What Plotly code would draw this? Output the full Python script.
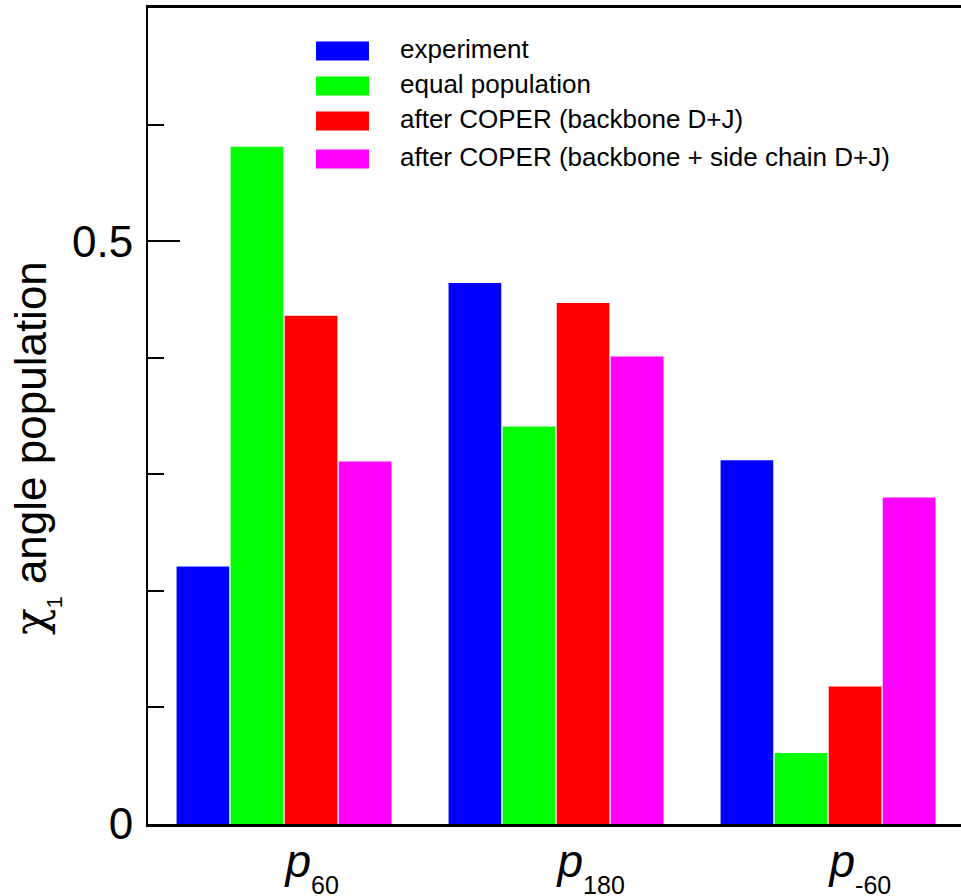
import plotly.graph_objects as go

# ---- data ----
categories = ["p60", "p180", "p-60"]
category_subscripts = ["60", "180", "-60"]
series_names = [
    "experiment",
    "equal population",
    "after COPER (backbone D+J)",
    "after COPER (backbone + side chain D+J)",
]
experiment = [0.221, 0.464, 0.312]
equal_population = [0.581, 0.341, 0.061]
coper_backbone = [0.436, 0.447, 0.118]
coper_backbone_side = [0.311, 0.401, 0.280]
series_values = [experiment, equal_population, coper_backbone, coper_backbone_side]
series_colors = ["#0000ff", "#00ff00", "#ff0000", "#ff00ff"]

y_tick_vals = [0, 0.5]
y_tick_text = ["0", "0.5"]

FONT = "Liberation Sans, Arial, Helvetica, sans-serif"

category_labels = [
    "<i>p</i><sub><sub><span style='font-size:25px'>%s</span></sub></sub>" % s
    for s in category_subscripts
]

# ---- layout geometry (pixels) ----
W, H = 961, 896
L, T, B = 148, 8, 72
PW = W - L
PH = H - T - B
UNIT = 272.0  # px per category


def px_x(p):
    return (p - L) / PW


def px_y(p):
    return (H - B - p) / PH


fig = go.Figure()
for name, vals, col in zip(series_names, series_values, series_colors):
    fig.add_trace(go.Bar(
        x=list(range(len(categories))),
        y=vals,
        name=name,
        marker=dict(color=col, line=dict(width=0)),
        showlegend=False,
    ))

# custom legend (large colour swatches like the reference)
legend_row_centers = [51, 86, 121, 159]
for name, col, yc in zip(series_names, series_colors, legend_row_centers):
    fig.add_shape(
        type="rect", xref="paper", yref="paper",
        x0=px_x(316), x1=px_x(369), y0=px_y(yc + 9.5), y1=px_y(yc - 9.5),
        fillcolor=col, line=dict(width=0),
    )
    fig.add_annotation(
        xref="paper", yref="paper", x=px_x(398), y=px_y(yc - 2),
        text=name, showarrow=False, xanchor="left", yanchor="middle",
        font=dict(family=FONT, size=26, color="black"),
    )

# y-axis title
fig.add_annotation(
    xref="paper", yref="paper", x=px_x(36), y=px_y(448),
    text="<span style='font-family:DejaVu Serif'>χ</span><sub><sub>1</sub></sub> angle population",
    textangle=-90,
    showarrow=False, xanchor="center", yanchor="middle",
    font=dict(family=FONT, size=44, color="black"),
)

fig.update_layout(
    width=W, height=H,
    margin=dict(l=L, r=0, t=T, b=B, pad=0, autoexpand=False),
    paper_bgcolor="white", plot_bgcolor="white",
    barmode="group", bargap=0.205, bargroupgap=0.025,
    showlegend=False,
    font=dict(family=FONT, color="black"),
)
fig.update_xaxes(
    range=[-0.5, PW / UNIT - 0.5],
    automargin=False,
    tickmode="array",
    tickvals=list(range(len(categories))),
    ticktext=category_labels,
    ticks="",
    ticklabelposition="outside right",
    ticklabelstandoff=-5,
    tickfont=dict(family=FONT, size=46, color="black"),
    showline=True, linecolor="black", linewidth=3, mirror=True,
    showgrid=False, zeroline=False,
)
fig.update_yaxes(
    range=[0, 0.7],
    automargin=False,
    tickmode="array", tickvals=y_tick_vals, ticktext=y_tick_text,
    ticks="inside", ticklen=32, tickwidth=2, tickcolor="black",
    ticklabelstandoff=4,
    minor=dict(tickmode="linear", tick0=0, dtick=0.1, ticks="inside",
               ticklen=16, tickwidth=2, tickcolor="black"),
    tickfont=dict(family=FONT, size=44, color="black"),
    showline=True, linecolor="black", linewidth=2,
    showgrid=False, zeroline=False,
)

fig.write_html(
    "out.html",
    config={"displayModeBar": False},
    post_script="document.body.style.margin='0';document.body.style.overflow='hidden';",
)
